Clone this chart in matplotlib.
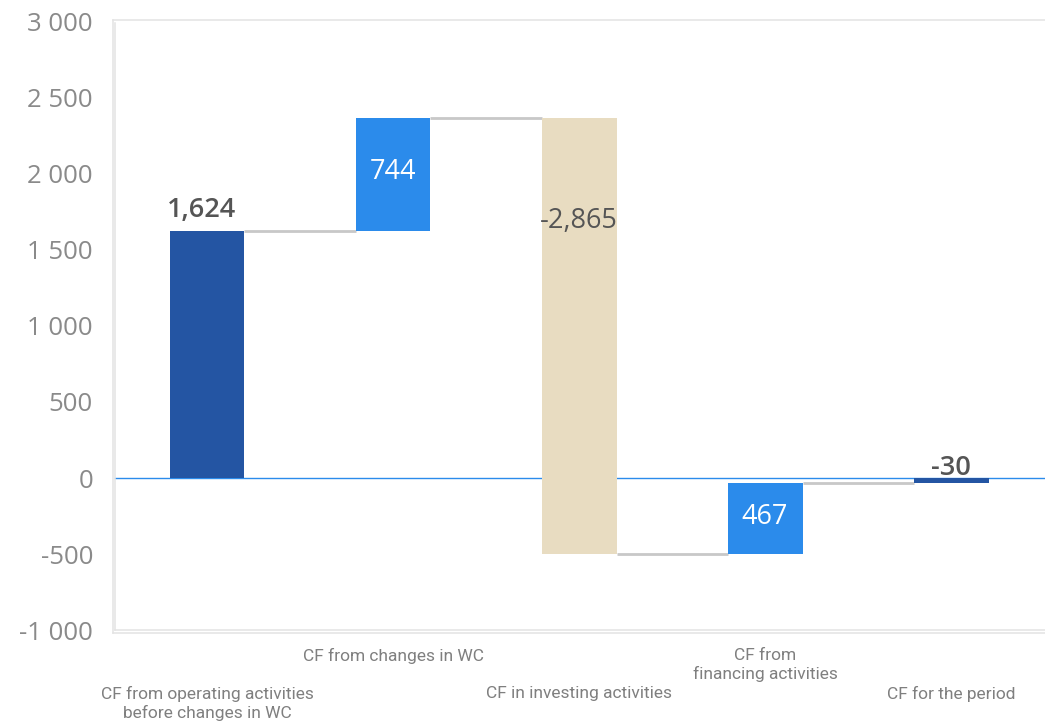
import numpy as np
import matplotlib
matplotlib.use('Agg')
import matplotlib.pyplot as plt
from matplotlib.ticker import FuncFormatter
import matplotlib.transforms as mtransforms

CATEGORIES = ['CF from operating activities\nbefore changes in WC',
              'CF from changes in WC',
              'CF in investing activities',
              'CF from\nfinancing activities',
              'CF for the period']
VALUES = [1624, 744, -2865, 467, -30]
LABELS = ['1,624', '744', '-2,865', '467', '-30']
IS_TOTAL = [True, False, False, False, True]

DARK = '#2455A3'
BRIGHT = '#2B8BEB'
BEIGE = '#E8DCC1'
COLORS = [DARK, BRIGHT, BEIGE, BRIGHT, DARK]
GRID = '#e3e3e3'
TXT = '#555555'
TICK = '#8a8a8a'

plt.rcParams['font.family'] = ['Open Sans', 'DejaVu Sans']

fig = plt.figure(figsize=(10.45, 7.22), dpi=100)
ax = fig.add_axes([112.5/1045, 1 - 632.5/722, (1045-112.5)/1045, (632.5-19.5)/722])

# bar bottoms / tops
x = np.arange(len(VALUES))
bottoms, tops, ends = [], [], []
running = 0
for v, tot in zip(VALUES, IS_TOTAL):
    if tot:
        b, t = 0, v
        if running == 0:
            running = v
    else:
        b, t = running, running + v
        running = running + v
    bottoms.append(min(b, t))
    tops.append(max(b, t))
    ends.append(running)

width = 0.403
ax.bar(x, np.array(tops) - np.array(bottoms), bottom=bottoms, width=width,
       color=COLORS, zorder=3)

# connectors
for i in range(len(VALUES) - 1):
    lvl = ends[i]
    ax.plot([x[i] + width/2, x[i+1] - width/2], [lvl, lvl], color='#c8c8c8',
            lw=2, zorder=2, solid_capstyle='butt')

ax.axhline(0, xmin=0.003, color=BRIGHT, lw=1, zorder=2)

ax.set_xlim(-0.508, 4.505)
ax.set_ylim(-1014, 3012)
ax.set_yticks(np.arange(-1000, 3001, 500))
ax.yaxis.set_major_formatter(FuncFormatter(
    lambda v, p: ('{:,.0f}'.format(v)).replace(',', ' ')))
ax.tick_params(axis='y', length=0, pad=14, labelsize=18.5, labelcolor=TICK)
ax.set_xticks([])

for s in ['left', 'bottom', 'top']:
    ax.spines[s].set_color(GRID)
    ax.spines[s].set_linewidth(1.1)
ax.spines['right'].set_visible(False)
# inner frame lines
ax.plot([-0.4925, -0.4925], [-1000, 2990], color=GRID, lw=1.1, clip_on=False)
ax.plot([-0.4925, 4.505], [-1000, -1000], color=GRID, lw=1.1, clip_on=False)

# value labels
label_y = [1763, 2010, 1690, -255, 66]
label_c = [TXT, 'white', TXT, 'white', TXT]
label_w = ['semibold', 'normal', 'normal', 'normal', 'semibold']
label_dx = [-0.03, 0, 0, 0, 0]
for i, lab in enumerate(LABELS):
    ax.text(x[i] + label_dx[i], label_y[i], lab, ha='center', va='center',
            fontsize=19.5, color=label_c[i], fontweight=label_w[i], zorder=4)

# staggered category labels
trans = mtransforms.blended_transform_factory(ax.transData, fig.transFigure)
rows = [1 - 686/722, 1 - 648/722]
for i, cat in enumerate(CATEGORIES):
    ax.text(x[i], rows[i % 2], cat, transform=trans, ha='center', va='top',
            fontsize=12.5, color='#7f7f7f', family=['Roboto', 'DejaVu Sans'],
            linespacing=1.2)

fig.savefig('out.png', dpi=100)
